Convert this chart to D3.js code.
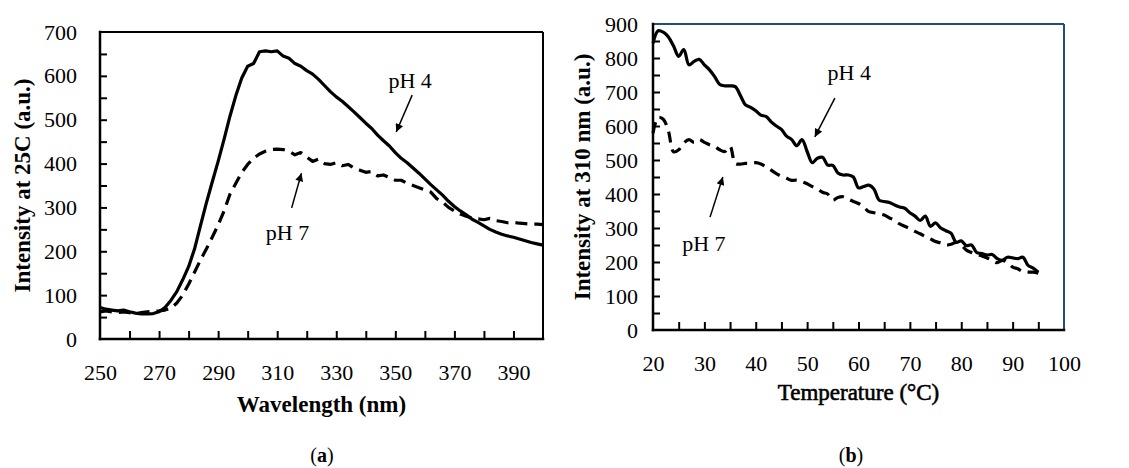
<!DOCTYPE html>
<html>
<head>
<meta charset="utf-8">
<script src="https://cdn.jsdelivr.net/npm/d3@7"></script>
<style>
    body { margin: 0; background: #fff; }
    text { font-family: "Liberation Serif", "Times New Roman", serif; fill: #000; }
    .tick text { font-size: 22px; }
    .tick line { stroke: #000; stroke-width: 2; }
    .note { font-size: 22px; }
    .title { font-size: 23px; font-weight: bold; }
</style>
</head>
<body>
<div id="vis"></div>
<script>

// (a) emission spectra at 25C
let wavelength = d3.range(250, 401, 2);
let specPH4 = [72, 68, 66, 64, 66, 62, 59, 57, 57, 58, 62, 72, 88, 108, 135, 165, 205, 258, 310, 358,
    405, 455, 508, 555, 595, 622, 628, 655, 657, 655, 657, 645, 640, 628, 622, 612, 604, 592, 578, 564,
    552, 542, 530, 518, 505, 492, 480, 465, 452, 440, 425, 412, 402, 390, 378, 365, 352, 340, 328, 314,
    302, 292, 283, 273, 266, 258, 250, 244, 239, 235, 232, 228, 224, 220, 217, 214];
let specPH7 = [62, 64, 62, 60, 62, 60, 58, 60, 62, 63, 64, 66, 70, 82, 100, 125, 152, 180, 205, 232,
    260, 292, 330, 355, 380, 398, 412, 422, 428, 432, 433, 432, 428, 420, 425, 415, 405, 410, 400, 398,
    402, 395, 398, 390, 385, 380, 382, 372, 374, 368, 362, 362, 355, 350, 345, 340, 335, 320, 312, 300,
    292, 285, 280, 276, 274, 272, 275, 270, 268, 265, 266, 264, 263, 262, 262, 261];

// (b) intensity at 310 nm vs temperature
let temperature = d3.range(20, 96, 1);
let tempPH4 = [843, 880, 876, 862, 835, 805, 825, 780, 790, 796, 780, 765, 745, 722, 718, 718, 716, 690, 662, 655,
    645, 632, 628, 612, 600, 590, 570, 560, 542, 560, 525, 492, 505, 508, 485, 484, 462, 456, 456, 450,
    418, 422, 426, 415, 382, 378, 375, 368, 362, 358, 345, 335, 322, 335, 305, 315, 300, 292, 285, 258,
    262, 248, 250, 228, 225, 220, 222, 210, 205, 214, 212, 210, 214, 190, 182, 170];
let tempPH7 = [579, 625, 620, 585, 524, 530, 550, 560, 552, 560, 552, 545, 540, 530, 525, 540, 490, 488, 490, 490,
    492, 488, 480, 470, 460, 452, 446, 440, 441, 436, 430, 422, 415, 405, 400, 382, 390, 392, 385, 378,
    372, 362, 348, 345, 342, 338, 330, 322, 312, 305, 298, 290, 283, 275, 268, 260, 256, 250, 252, 258,
    250, 235, 228, 222, 218, 212, 205, 198, 205, 198, 185, 180, 172, 170, 170, 167];

// ticks
let aXTicks = d3.range(250, 391, 10), aXLabels = d3.range(250, 391, 20);
let aYTicks = d3.range(0, 701, 50), aYLabels = d3.range(0, 701, 100);
let bXTicks = d3.range(20, 96, 5), bXLabels = d3.range(20, 101, 10);
let bYTicks = d3.range(0, 901, 50), bYLabels = d3.range(0, 901, 100);

// annotations: label position, arrow start, arrow tip (data units)
let notesA = [
    {text: 'pH 4', at: [355, 590], from: [355.7, 556], to: [350.3, 472]},
    {text: 'pH 7', at: [313.5, 244], from: [314.9, 299], to: [318.2, 378]}
];
let notesB = [
    {text: 'pH 4', at: [58.2, 759], from: [55.4, 682], to: [51.5, 568]},
    {text: 'pH 7', at: [29.9, 256], from: [31.1, 332], to: [33.6, 450]}
];

let width = 1129, height = 468;

let svg = d3.select('#vis')
    .append('svg')
    .attr('width', width)
    .attr('height', height);

svg.append('defs').append('marker')
    .attr('id', 'head')
    .attr('viewBox', '0 0 10 10')
    .attr('refX', 10).attr('refY', 5)
    .attr('markerWidth', 9).attr('markerHeight', 8)
    .attr('markerUnits', 'userSpaceOnUse')
    .attr('orient', 'auto')
    .append('path')
    .attr('d', 'M0,0 L10,5 L0,10 z')
    .attr('fill', '#000');

function panel(opt) {
    let x = d3.scaleLinear().domain(opt.xDomain).range([opt.left, opt.right]);
    let y = d3.scaleLinear().domain(opt.yDomain).range([opt.bottom, opt.top]);

    let g = svg.append('g');

    // axes with inside ticks
    g.append('g')
        .attr('transform', 'translate(0,' + opt.bottom + ')')
        .call(d3.axisBottom(x)
            .tickValues(d3.union(opt.xTicks, opt.xLabels))
            .tickSizeInner(-8).tickSizeOuter(0).tickPadding(25)
            .tickFormat(d => opt.xLabels.includes(d) ? d : ''))
        .call(a => a.select('.domain').remove())
        .call(a => a.selectAll('.tick').filter(d => d === opt.xDomain[0] || d === opt.xDomain[1]).select('line').remove());

    g.append('g')
        .attr('transform', 'translate(' + opt.left + ',0)')
        .call(d3.axisLeft(y)
            .tickValues(opt.yTicks)
            .tickSizeInner(-7).tickSizeOuter(0).tickPadding(opt.yPad)
            .tickFormat(d => opt.yLabels.includes(d) ? d : ''))
        .call(a => a.select('.domain').remove())
        .call(a => a.selectAll('.tick').filter(d => d === opt.yDomain[0] || d === opt.yDomain[1]).select('line').remove());

    // frame
    g.append('line').attr('x1', opt.left).attr('x2', opt.right).attr('y1', opt.top).attr('y2', opt.top)
        .attr('stroke', opt.frameColor).attr('stroke-width', 2);
    g.append('line').attr('x1', opt.right).attr('x2', opt.right).attr('y1', opt.top).attr('y2', opt.bottom)
        .attr('stroke', opt.frameColor).attr('stroke-width', 2);
    g.append('line').attr('x1', opt.left).attr('x2', opt.right).attr('y1', opt.bottom).attr('y2', opt.bottom)
        .attr('stroke', '#000').attr('stroke-width', 2.5).attr('stroke-linecap', 'square');
    g.append('line').attr('x1', opt.left).attr('x2', opt.left).attr('y1', opt.top).attr('y2', opt.bottom)
        .attr('stroke', '#000').attr('stroke-width', 2.5).attr('stroke-linecap', 'square');

    // series
    let line = d3.line()
        .x(d => x(d[0]))
        .y(d => y(d[1]))
        .curve(opt.curve);

    opt.series.forEach(s => {
        g.append('path')
            .datum(d3.zip(opt.xs, s.values))
            .attr('fill', 'none')
            .attr('stroke', '#000')
            .attr('stroke-width', 3.2)
            .attr('stroke-linejoin', 'round')
            .attr('stroke-dasharray', s.dash)
            .attr('d', line);
    });

    // notes
    opt.notes.forEach(n => {
        g.append('line')
            .attr('x1', x(n.from[0])).attr('y1', y(n.from[1]))
            .attr('x2', x(n.to[0])).attr('y2', y(n.to[1]))
            .attr('stroke', '#000').attr('stroke-width', 1.5)
            .attr('marker-end', 'url(#head)');
        g.append('text')
            .attr('class', 'note')
            .attr('x', x(n.at[0])).attr('y', y(n.at[1]))
            .attr('dy', '0.35em')
            .attr('text-anchor', 'middle')
            .text(n.text);
    });

    // axis titles
    g.append('text')
        .attr('class', 'title')
        .attr('x', (opt.left + opt.right) / 2)
        .attr('y', opt.xTitleY)
        .attr('text-anchor', 'middle')
        .style('font-weight', opt.xTitleWeight)
        .attr('stroke', opt.xTitleWeight === 'normal' ? '#000' : 'none')
        .attr('stroke-width', 0.6)
        .text(opt.xTitle);

    g.append('text')
        .attr('class', 'title')
        .attr('transform', 'translate(' + opt.yTitleX + ',' + (opt.top + opt.bottom) / 2 + ') rotate(-90)')
        .attr('text-anchor', 'middle')
        .attr('dy', '0.35em')
        .text(opt.yTitle);

    g.append('text')
        .attr('x', opt.tagX)
        .attr('y', 462)
        .attr('text-anchor', 'middle')
        .style('font-size', '20px')
        .text('(')
        .append('tspan').style('font-weight', 'bold').text(opt.tag)
        .select(function() { return this.parentNode; })
        .append('tspan').text(')');
}

panel({
    left: 100, right: 543, top: 32, bottom: 339,
    xDomain: [250, 400], yDomain: [0, 700],
    xTicks: aXTicks, xLabels: aXLabels, yTicks: aYTicks, yLabels: aYLabels,
    yPad: 23, frameColor: '#000',
    xs: wavelength,
    series: [{values: specPH4, dash: null}, {values: specPH7, dash: '12,7'}],
    curve: d3.curveLinear,
    notes: notesA,
    xTitle: 'Wavelength (nm)', xTitleY: 412, xTitleWeight: 'bold',
    yTitle: 'Intensity at 25C (a.u.)', yTitleX: 22,
    tagX: 322, tag: 'a'
});

panel({
    left: 653, right: 1064, top: 24, bottom: 330,
    xDomain: [20, 100], yDomain: [0, 900],
    xTicks: bXTicks, xLabels: bXLabels, yTicks: bYTicks, yLabels: bYLabels,
    yPad: 15, frameColor: '#1f4e79',
    xs: temperature,
    series: [{values: tempPH4, dash: null}, {values: tempPH7, dash: '11,7'}],
    curve: d3.curveCatmullRom,
    notes: notesB,
    xTitle: 'Temperature (°C)', xTitleY: 400, xTitleWeight: 'normal',
    yTitle: 'Intensity at 310 nm (a.u.)', yTitleX: 582,
    tagX: 851, tag: 'b'
});

</script>
</body>
</html>
